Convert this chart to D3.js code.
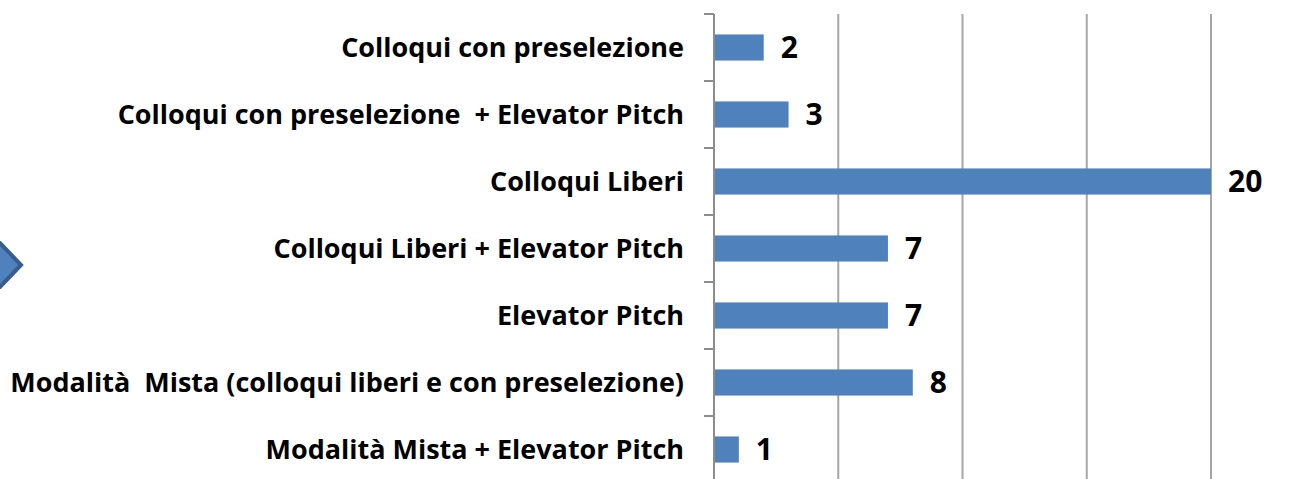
<!DOCTYPE html>
<html>
<head>
<meta charset="utf-8">
<script src="https://cdn.jsdelivr.net/npm/d3@7"></script>
<style>
  html, body { margin: 0; padding: 0; background: #fff; }
  svg { display: block; }
</style>
</head>
<body>
<div id="chart"></div>
<script>
const categories = [
  'Colloqui con preselezione',
  'Colloqui con preselezione  + Elevator Pitch',
  'Colloqui Liberi',
  'Colloqui Liberi + Elevator Pitch',
  'Elevator Pitch',
  'Modalità  Mista (colloqui liberi e con preselezione)',
  'Modalità Mista + Elevator Pitch'
];
const values = [2, 3, 20, 7, 7, 8, 1];
const gridTicks = [5, 10, 15, 20];

const width = 1315;
const height = 479;
const margin = {top: 14, left: 714};
const barColor = '#4f81bd';
const font = '"Open Sans", Lato, sans-serif';

const svg = d3.select('#chart').append('svg')
  .attr('width', width)
  .attr('height', height);

const x = d3.scaleLinear()
  .domain([0, 20])
  .range([margin.left, 1211]);

const y = d3.scaleBand()
  .domain(categories)
  .range([margin.top, margin.top + 67 * categories.length])
  .paddingInner(0.61)
  .paddingOuter(0.305);

// decorative arrow cut at the left edge
svg.append('path')
  .attr('d', 'M-30,243 L0,243 L21,265 L0,287 L-30,287 Z')
  .attr('fill', barColor)
  .attr('stroke', '#385d8a')
  .attr('stroke-width', 4)
  .attr('stroke-linejoin', 'miter');

// vertical gridlines
svg.append('g')
  .selectAll('line')
  .data(gridTicks)
  .join('line')
    .attr('x1', d => x(d))
    .attr('x2', d => x(d))
    .attr('y1', margin.top)
    .attr('y2', height)
    .attr('stroke', '#a6a6a6')
    .attr('stroke-width', 2);

// bars
svg.append('g')
  .selectAll('rect')
  .data(values)
  .join('rect')
    .attr('x', x(0))
    .attr('y', (d, i) => y(categories[i]))
    .attr('width', d => x(d) - x(0))
    .attr('height', y.bandwidth())
    .attr('fill', barColor);

// category axis: ticks at band boundaries
const boundaries = d3.range(categories.length + 1).map(i => margin.top + i * y.step());
svg.append('g')
  .selectAll('line')
  .data(boundaries)
  .join('line')
    .attr('x1', margin.left - 10)
    .attr('x2', margin.left)
    .attr('y1', d => d)
    .attr('y2', d => d)
    .attr('stroke', '#8c8c8c')
    .attr('stroke-width', 2);

svg.append('line')
  .attr('x1', margin.left)
  .attr('x2', margin.left)
  .attr('y1', margin.top)
  .attr('y2', height)
  .attr('stroke', '#8c8c8c')
  .attr('stroke-width', 2);

// category labels
const labels = svg.append('g')
  .selectAll('text')
  .data(categories)
  .join('text')
    .attr('x', 684)
    .attr('y', d => y(d) + y.bandwidth() / 2)
    .attr('dy', '0.36em')
    .attr('text-anchor', 'end')
    .attr('font-family', font)
    .attr('font-weight', 'bold')
    .attr('font-size', 21)
    .attr('fill', '#000')
    .style('white-space', 'pre')
    .text(d => d);

// fit the longest label to the width it has in the original (x 10..684)
const longest = d3.max(labels.nodes(), n => n.getComputedTextLength());
labels.attr('font-size', 21 * 674 / longest);

// value labels
svg.append('g')
  .selectAll('text')
  .data(values)
  .join('text')
    .attr('x', d => x(d) + 17)
    .attr('y', (d, i) => y(categories[i]) + y.bandwidth() / 2)
    .attr('dy', '0.36em')
    .attr('font-family', font)
    .attr('font-weight', 'bold')
    .attr('font-size', 30)
    .attr('fill', '#000')
    .text(d => d);
</script>
</body>
</html>
